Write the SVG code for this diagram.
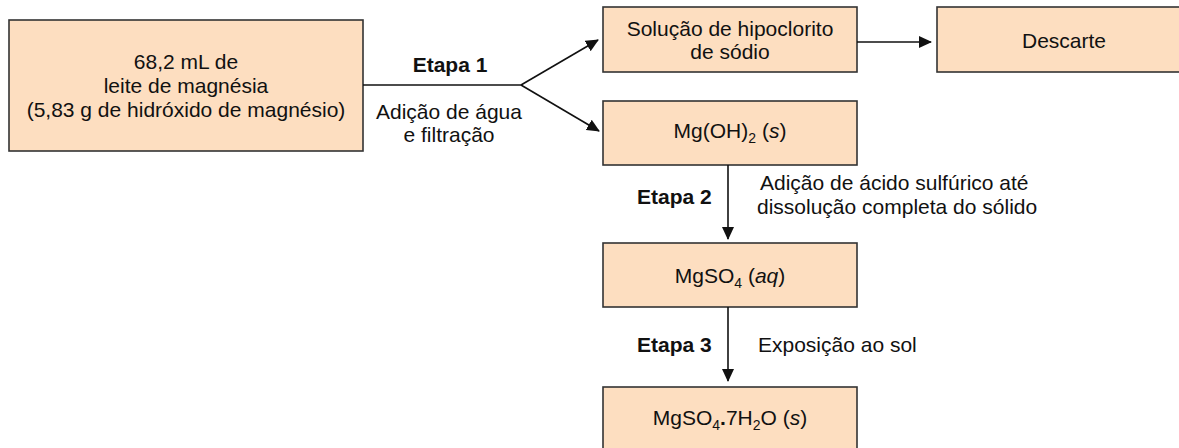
<svg xmlns="http://www.w3.org/2000/svg" width="1179" height="448" viewBox="0 0 1179 448">
<style>
.box{fill:#FDDEC0;stroke:#333;stroke-width:1.6}
.t{font-family:"Liberation Sans",Arial,sans-serif;font-size:21px;fill:#111;text-anchor:middle}
.l{font-family:"Liberation Sans",Arial,sans-serif;font-size:21px;fill:#111}
.b{font-family:"Liberation Sans",Arial,sans-serif;font-size:21px;font-weight:bold;fill:#111}
.sub{font-size:14px}
.c{stroke:#111;stroke-width:1.6;fill:none}
</style>
<defs>
<marker id="ah" markerUnits="userSpaceOnUse" markerWidth="13" markerHeight="12" refX="12" refY="6" orient="auto">
<path d="M0,0 L13,6 L0,12 z" fill="#111"/>
</marker>
</defs>
<rect width="1179" height="448" fill="#fff"/>
<g id="n1">
<rect class="box" x="9" y="20" width="354" height="131"/>
<text class="t" x="186" y="69">68,2 mL de</text>
<text class="t" x="186" y="93">leite de magnésia</text>
<text class="t" x="186" y="117">(5,83 g de hidróxido de magnésio)</text>
</g>
<g id="n2">
<rect class="box" x="603" y="7" width="254" height="65"/>
<text class="t" x="730" y="36">Solução de hipoclorito</text>
<text class="t" x="730" y="59">de sódio</text>
</g>
<g id="n3">
<rect class="box" x="937" y="7" width="254" height="65"/>
<text class="t" x="1064" y="48">Descarte</text>
</g>
<g id="n4">
<rect class="box" x="603" y="101" width="254" height="64"/>
<text class="t" x="730" y="138">Mg(OH)<tspan class="sub" dy="5">2</tspan><tspan dy="-5"> (</tspan><tspan font-style="italic">s</tspan>)</text>
</g>
<g id="n5">
<rect class="box" x="603" y="243" width="254" height="64"/>
<text class="t" x="730" y="283">MgSO<tspan class="sub" dy="5">4</tspan><tspan dy="-5"> (</tspan><tspan font-style="italic">aq</tspan>)</text>
</g>
<g id="n6">
<rect class="box" x="603" y="387" width="254" height="70"/>
<text class="t" x="730" y="425">MgSO<tspan class="sub" dy="5">4</tspan><tspan dy="-5" font-weight="bold">.</tspan>7H<tspan class="sub" dy="5">2</tspan><tspan dy="-5">O (</tspan><tspan font-style="italic">s</tspan>)</text>
</g>
<g id="connectors">
<path class="c" d="M363,85 L521,85"/>
<path class="c" d="M521,85 L598,40" marker-end="url(#ah)"/>
<path class="c" d="M521,85 L599,131" marker-end="url(#ah)"/>
<path class="c" d="M857,42 L931,42" marker-end="url(#ah)"/>
<path class="c" d="M728,165 L728,239" marker-end="url(#ah)"/>
<path class="c" d="M728,307 L728,381" marker-end="url(#ah)"/>
</g>
<g id="labels">
<text class="b" x="450" y="72" text-anchor="middle">Etapa 1</text>
<text class="t" x="449" y="119">Adição de água</text>
<text class="t" x="449" y="142">e filtração</text>
<text class="b" x="637" y="204">Etapa 2</text>
<text class="l" x="760" y="190">Adição de ácido sulfúrico até</text>
<text class="l" x="757" y="214">dissolução completa do sólido</text>
<text class="b" x="637" y="352">Etapa 3</text>
<text class="l" x="758" y="352">Exposição ao sol</text>
</g>
</svg>
